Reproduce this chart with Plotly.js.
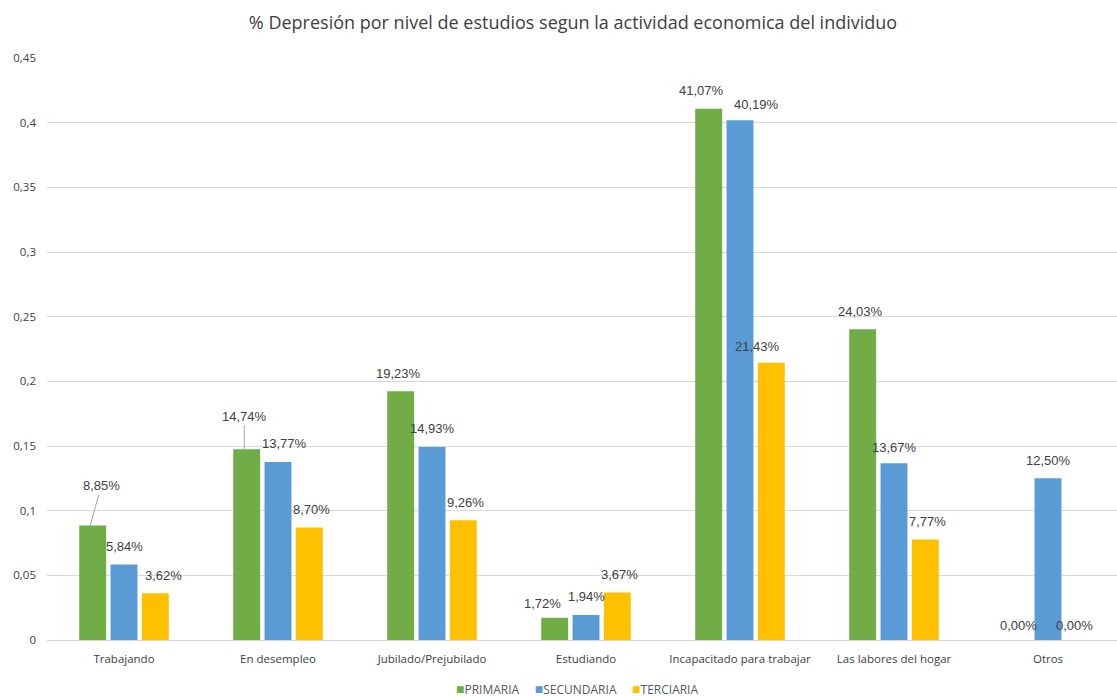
<!DOCTYPE html>
<html><head><meta charset="utf-8">
<script src="https://cdn.plot.ly/plotly-3.0.1.min.js"></script>
<style>html,body{margin:0;padding:0;background:#fff}#chart{width:1117px;height:697px}</style>
</head><body><div id="chart"></div>
<script>
const categories = ["Trabajando","En desempleo","Jubilado/Prejubilado","Estudiando","Incapacitado para trabajar","Las labores del hogar","Otros"];
const primaria   = [0.0885, 0.1474, 0.1923, 0.0172, 0.4107, 0.2403, 0.0000];
const secundaria = [0.0584, 0.1377, 0.1493, 0.0194, 0.4019, 0.1367, 0.1250];
const terciaria  = [0.0362, 0.0870, 0.0926, 0.0367, 0.2143, 0.0777, 0.0000];
const seriesNames = ["PRIMARIA","SECUNDARIA","TERCIARIA"];
const colors = ["#70AD47","#5B9BD5","#FFC000"];
const tickVals = [0,0.05,0.1,0.15,0.2,0.25,0.3,0.35,0.4,0.45];
const tickText = ["0","0,05","0,1","0,15","0,2","0,25","0,3","0,35","0,4","0,45"];

function fmt(v){ return (v*100).toFixed(2).replace('.',',') + '%'; }

const allSeries = [primaria, secundaria, terciaria];
const data = allSeries.map((vals,i)=>({
  type:'bar', name: seriesNames[i], x: categories, y: vals,
  marker:{color: colors[i]}, hoverinfo:'none', showlegend:false
}));

// label placement tweaks (pixels), keyed "series-category"
const slotPx = 33.75;
const nudge = {
  "0-0": {leader:true, ax:11, ay:-40},
  "0-1": {leader:true, ax:0, ay:-33},
  "1-1": {dx:6}, "2-0": {dx:6},
  "0-3": {dx:-10, dy:-4}, "0-4": {dx:-5},
  "1-4": {dx:16, dy:-2}, "2-4": {dx:-16, dy:-2},
  "1-5": {dy:-2}, "0-6": {dx:4, dy:-3}, "2-6": {dx:-7, dy:-3}
};
const labelFont = {family:'Liberation Sans, Arial, sans-serif', size:13, color:'#404040'};
const annotations = [];
allSeries.forEach((vals,i)=>{
  vals.forEach((v,j)=>{
    const n = nudge[i+'-'+j] || {};
    const base = (i-1)*slotPx;
    if (n.leader) {
      annotations.push({x:categories[j], y:v, xref:'x', yref:'y', text:fmt(v), font:labelFont,
        showarrow:true, arrowhead:0, arrowwidth:1, arrowcolor:'#a6a6a6', ax:n.ax, ay:n.ay,
        xshift:base, standoff:0, startstandoff:0});
    } else {
      annotations.push({x:categories[j], y:v, xref:'x', yref:'y', text:fmt(v), font:labelFont,
        showarrow:false, xanchor:'center', yanchor:'middle',
        xshift: base + (n.dx||0), yshift: 18 + (n.dy||0)});
    }
  });
});
// legend (custom, compact squares)
const legendText = seriesNames.map((s,i)=>
  '<span style="color:'+colors[i]+';font-size:14px">■</span>'+s).join('&nbsp;&nbsp;&nbsp;&nbsp;&nbsp;');
annotations.push({xref:'paper', yref:'paper', x:0.495, y:-0.083, xanchor:'center', yanchor:'middle',
  showarrow:false, text:legendText, font:{family:'Open Sans, sans-serif', size:12, color:'#595959'}});

const layout = {
  width:1117, height:697,
  margin:{l:47, r:0, t:58, b:57, autoexpand:false},
  paper_bgcolor:'#fff', plot_bgcolor:'#fff',
  title:{text:'% Depresión por nivel de estudios segun la actividad economica del individuo',
    font:{family:'Open Sans, sans-serif', size:18, color:'#404040'}, x:0.513, xanchor:'center', y:0.968, yanchor:'middle'},
  barmode:'group', bargap:0.39, bargroupgap:0.14,
  xaxis:{type:'category', range:[-0.5, 6.448], tickfont:{family:'Open Sans, sans-serif', size:11.5, color:'#404040'},
    showline:false, ticks:'', showgrid:false, ticklabelstandoff:10, automargin:false},
  yaxis:{range:[0,0.45], tickvals:tickVals, ticktext:tickText,
    tickfont:{family:'Open Sans, sans-serif', size:11.5, color:'#404040'},
    showgrid:true, gridcolor:'#d9d9d9', gridwidth:1, zeroline:true, zerolinecolor:'#d9d9d9', zerolinewidth:1,
    ticks:'', ticklen:0, showline:false, ticklabelstandoff:10, automargin:false},
  showlegend:false,
  annotations: annotations
};

Plotly.newPlot('chart', data, layout, {displayModeBar:false, staticPlot:true});
</script></body></html>
